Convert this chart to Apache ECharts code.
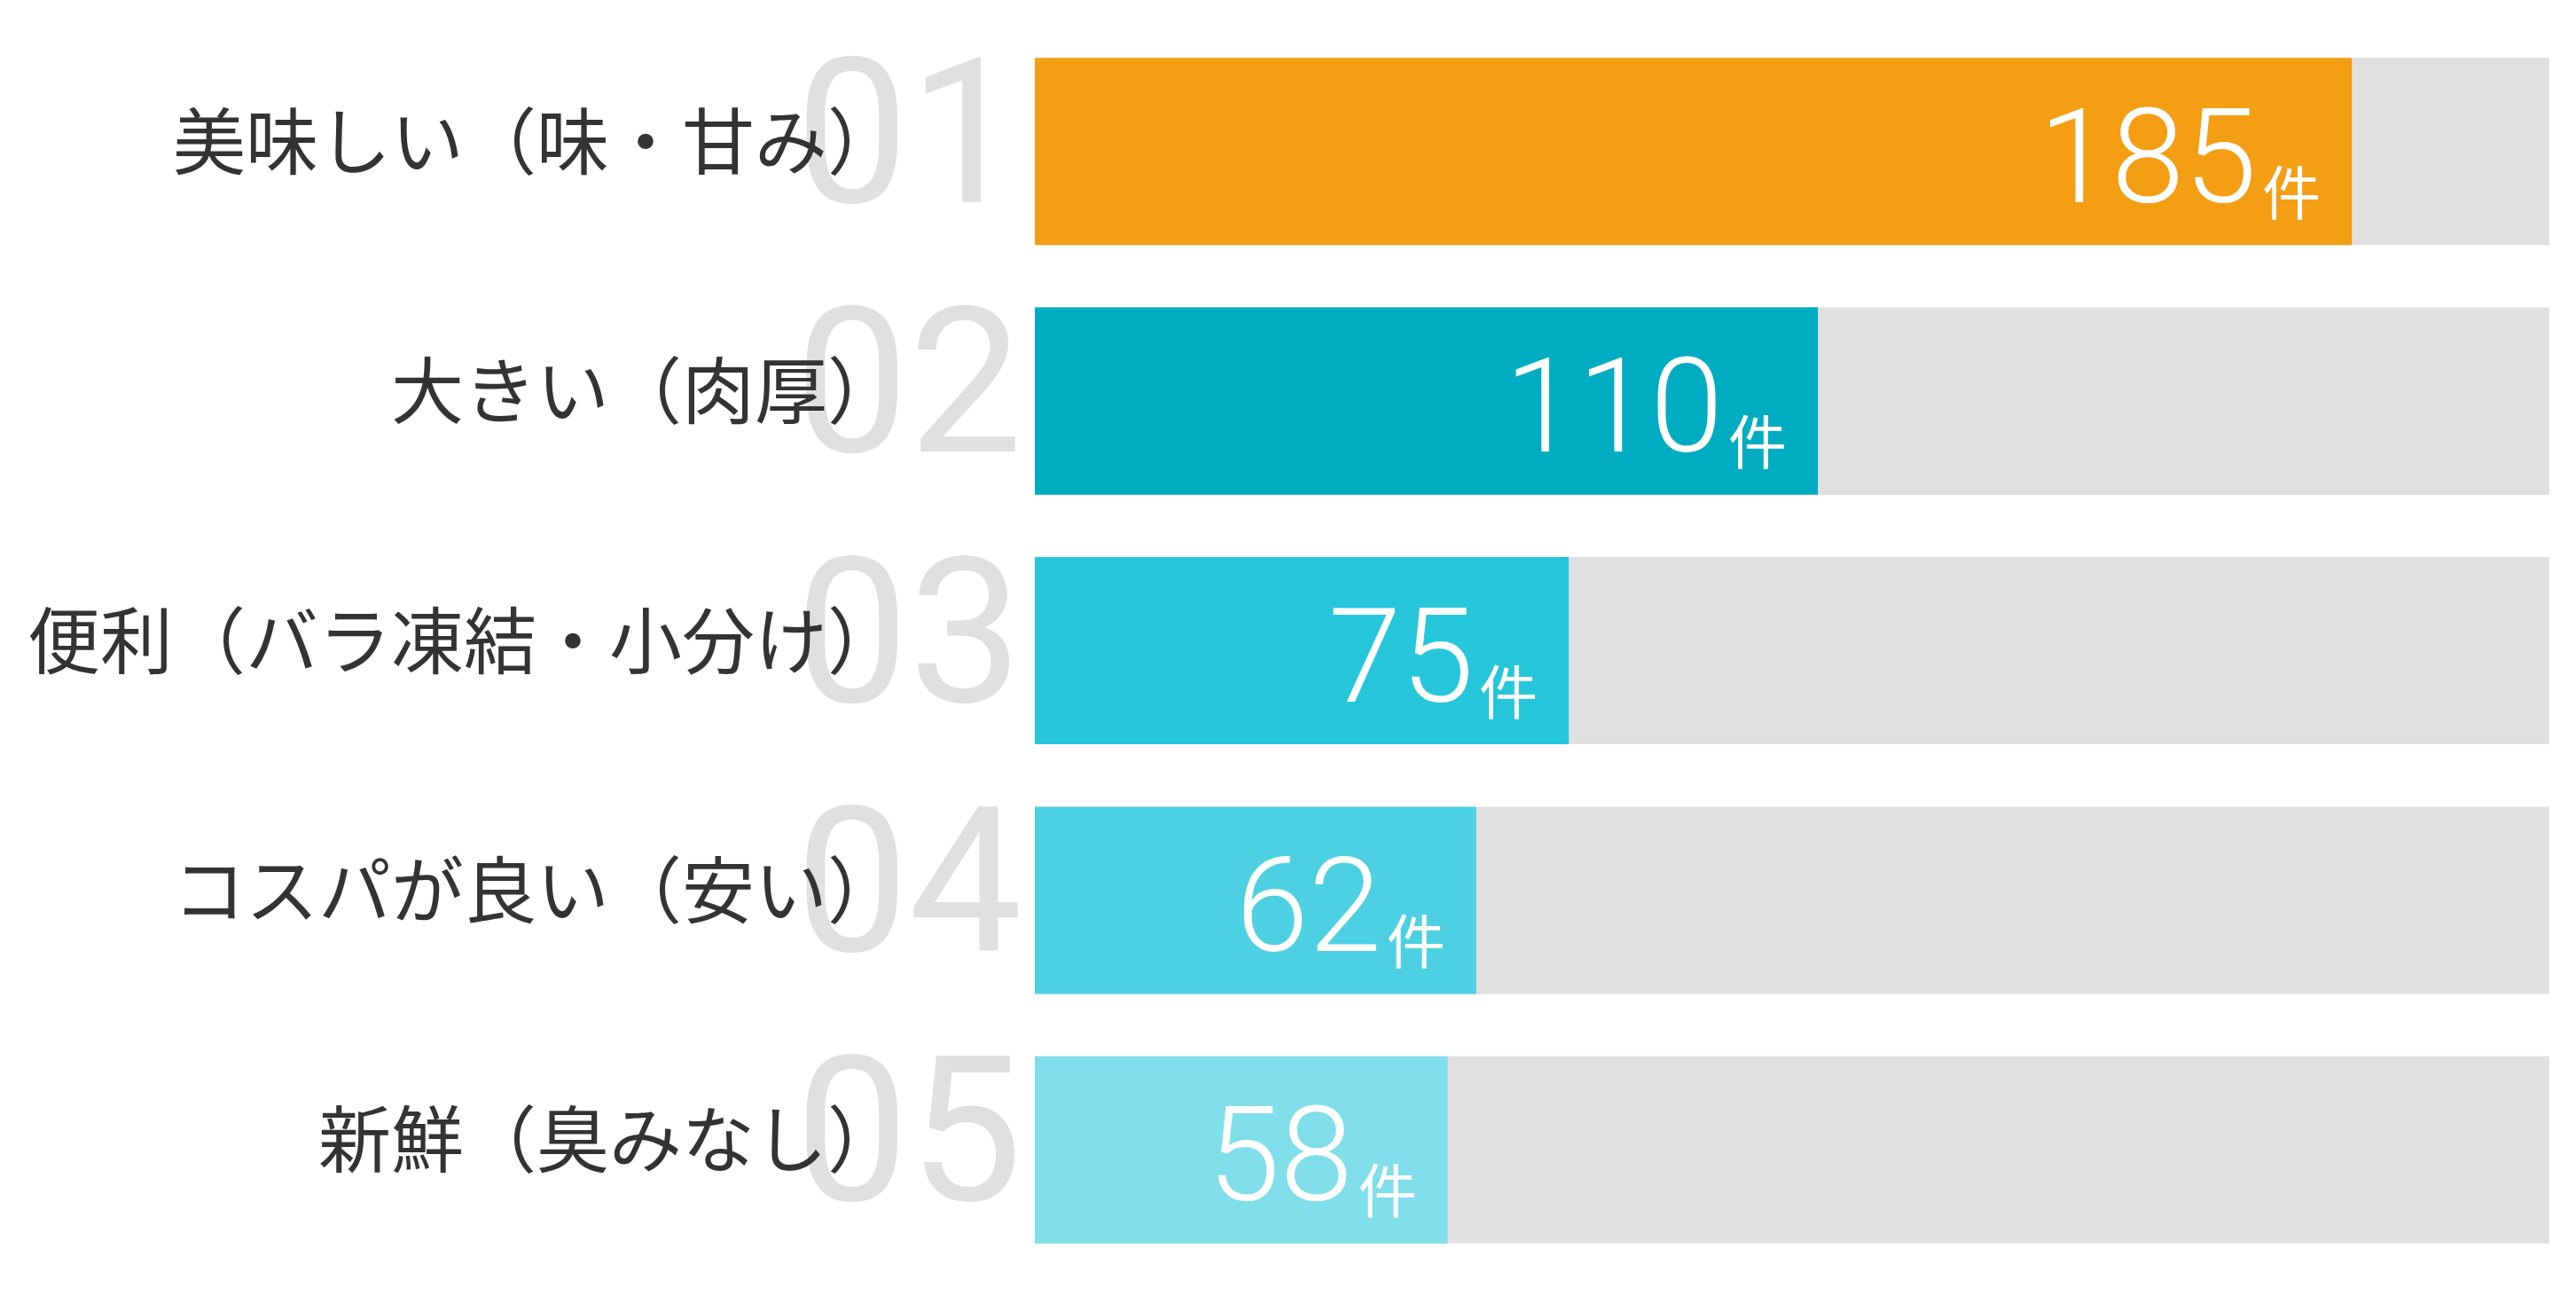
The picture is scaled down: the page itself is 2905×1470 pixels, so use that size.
<!DOCTYPE html>
<html>
<head>
<meta charset="utf-8">
<script src="https://cdn.jsdelivr.net/npm/echarts@6/dist/echarts.min.js"></script>
<style>
  html, body { margin: 0; padding: 0; background: #fff; }
  #main { width: 2905px; height: 1470px; }
</style>
</head>
<body>
<div id="main"></div>
<script>
// 集計データ
const categories = ['美味しい（味・甘み）', '大きい（肉厚）', '便利（バラ凍結・小分け）', 'コスパが良い（安い）', '新鮮（臭みなし）'];
const ranks = ['01', '02', '03', '04', '05'];
const counts = [185, 110, 75, 62, 58];
const unit = '件';

// 棒の色（順位ごと）
const barColors = ['#F39E13', '#00ACC1', '#26C6DA', '#4DD0E1', '#80DEEA'];

const axisMax = Math.max(...counts) * 1.15;

const myChart = echarts.init(document.getElementById('main'));

myChart.setOption({
  animation: false,
  grid: {
    left: 1167,
    right: 30,
    top: 30,
    bottom: 33,
    containLabel: false
  },
  xAxis: {
    type: 'value',
    min: 0,
    max: axisMax,
    show: false
  },
  yAxis: [
    {
      // 項目名
      type: 'category',
      data: categories,
      inverse: true,
      position: 'left',
      z: 3,
      axisLine: { show: false },
      axisTick: { show: false },
      splitLine: { show: false },
      axisLabel: {
        interval: 0,
        margin: 152,
        fontSize: 82,
        color: '#333',
        fontFamily: '"Noto Sans CJK JP", sans-serif',
        verticalAlign: 'bottom',
        lineHeight: 24
      }
    },
    {
      // 順位の大きい数字（背景）
      type: 'category',
      data: ranks,
      inverse: true,
      position: 'left',
      z: 1,
      axisLine: { show: false },
      axisTick: { show: false },
      splitLine: { show: false },
      axisLabel: {
        interval: 0,
        margin: 14,
        fontSize: 228,
        fontWeight: 400,
        color: '#E0E0E0',
        fontFamily: 'Roboto, sans-serif',
        padding: [0, 0, 40, 0]
      }
    }
  ],
  series: [
    {
      type: 'bar',
      yAxisIndex: 0,
      barCategoryGap: '25%',
      showBackground: true,
      backgroundStyle: { color: '#E0E0E0' },
      data: counts.map((v, i) => ({
        value: v,
        itemStyle: { color: barColors[i] }
      })),
      label: {
        show: true,
        position: 'insideRight',
        distance: 35,
        offset: [0, 20],
        formatter: p => '{num|' + p.value + '}{unit|' + unit + '}',
        rich: {
          num: {
            fontSize: 148,
            lineHeight: 148,
            fontWeight: 300,
            color: '#fff',
            fontFamily: 'Roboto, sans-serif',
            verticalAlign: 'bottom'
          },
          unit: {
            fontSize: 66,
            lineHeight: 68,
            color: '#fff',
            fontFamily: '"Noto Sans CJK JP", sans-serif',
            verticalAlign: 'bottom',
            padding: [0, 0, 15, 6]
          }
        }
      }
    }
  ]
});
</script>
</body>
</html>
